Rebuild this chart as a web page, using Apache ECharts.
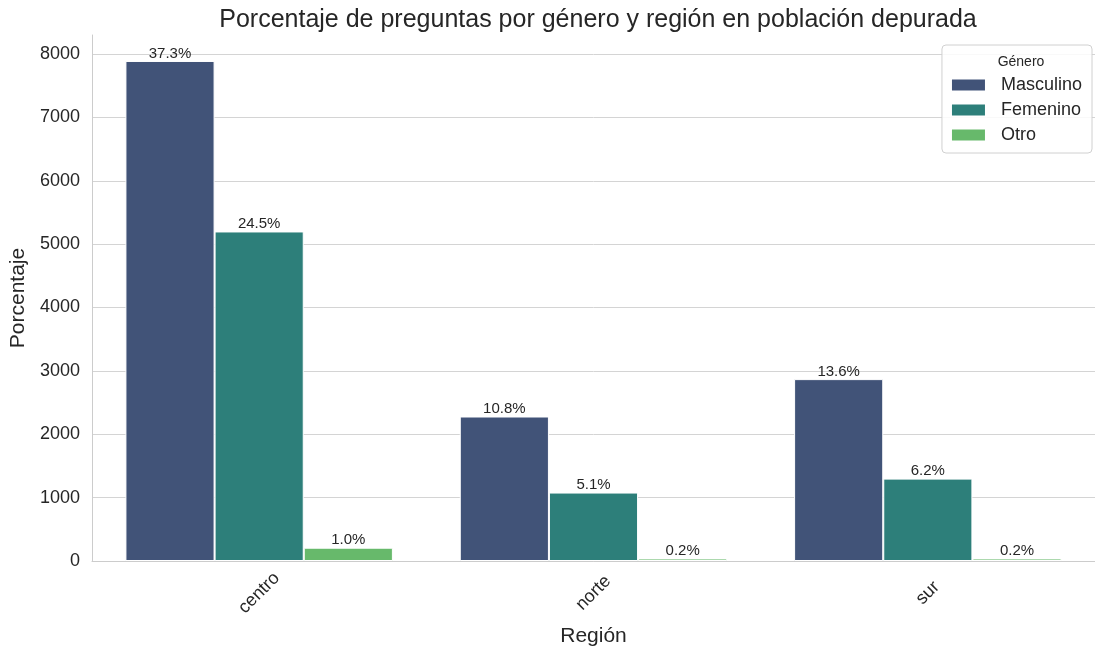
<!DOCTYPE html>
<html>
<head>
<meta charset="utf-8">
<script src="https://cdn.jsdelivr.net/npm/echarts@6/dist/echarts.min.js"></script>
<style>
  html, body { margin: 0; padding: 0; background: #fff; }
  #chart { width: 1095px; height: 652px; }
</style>
</head>
<body>
<div id="chart"></div>
<script>
// datos
var regiones = ['centro', 'norte', 'sur'];
var generos = ['Masculino', 'Femenino', 'Otro'];
var masculino = [7890, 2280, 2870];
var femenino = [5200, 1080, 1300];
var otro = [210, 40, 40];
// etiquetas de porcentaje sobre cada barra
var pctMasculino = ['37.3%', '10.8%', '13.6%'];
var pctFemenino = ['24.5%', '5.1%', '6.2%'];
var pctOtro = ['1.0%', '0.2%', '0.2%'];
var colores = ['#415378', '#2d7f7a', '#67b96b'];

(function () {
  var myChart = echarts.init(document.getElementById('chart'));
  var fuente = "'Liberation Sans', Arial, sans-serif";
  var texto = '#262626';

  function serie(nombre, datos, pct) {
    return {
      name: nombre,
      type: 'bar',
      data: datos,
      barGap: '0%',
      barCategoryGap: '20%',
      itemStyle: { borderColor: '#fff', borderWidth: 1 },
      label: {
        show: true,
        position: 'top',
        distance: 0,
        color: texto,
        fontSize: 15,
        fontFamily: fuente,
        formatter: function (p) { return pct[p.dataIndex]; }
      }
    };
  }

  var option = {
    animation: false,
    color: colores,
    textStyle: { fontFamily: fuente },
    title: [
      {
        text: 'Porcentaje de preguntas por género y región en población depurada',
        left: 593,
        top: 3,
        textAlign: 'center',
        textStyle: { fontSize: 25, fontWeight: 'normal', color: texto, fontFamily: fuente }
      },
      {
        text: 'Género',
        left: 1016,
        top: 50,
        textAlign: 'center',
        textStyle: { fontSize: 14, fontWeight: 'normal', color: texto, fontFamily: fuente }
      }
    ],
    legend: {
      data: generos,
      icon: 'rect',
      orient: 'vertical',
      right: 3,
      top: 45,
      padding: [31, 10, 9, 8],
      itemGap: 7,
      itemWidth: 35,
      itemHeight: 13,
      borderColor: '#d0d0d0',
      borderWidth: 1,
      borderRadius: 4,
      backgroundColor: 'rgba(255,255,255,0.85)',
      textStyle: { fontSize: 18, color: texto, fontFamily: fuente, padding: [0, 0, 0, 10] }
    },
    grid: {
      left: 92,
      right: 0,
      top: 35,
      bottom: 91,
      outerBoundsMode: 'none',
      containLabel: false
    },
    xAxis: {
      type: 'category',
      data: regiones,
      name: 'Región',
      nameLocation: 'middle',
      nameGap: 65,
      nameTextStyle: { fontSize: 21, color: texto, fontFamily: fuente },
      axisLine: { lineStyle: { color: '#cccccc', width: 1 } },
      axisTick: { show: false },
      axisLabel: {
        rotate: 45,
        margin: 32,
        align: 'center',
        verticalAlign: 'middle',
        fontSize: 18,
        color: texto,
        fontFamily: fuente
      }
    },
    yAxis: {
      type: 'value',
      min: 0,
      max: 8300,
      interval: 1000,
      name: 'Porcentaje',
      nameLocation: 'middle',
      nameGap: 55,
      nameTextStyle: { fontSize: 21, color: texto, fontFamily: fuente },
      axisLine: { show: true, lineStyle: { color: '#cccccc', width: 1 } },
      axisTick: { show: false },
      axisLabel: {
        showMaxLabel: false,
        margin: 12,
        fontSize: 18,
        color: texto,
        fontFamily: fuente,
        formatter: function (v) { return String(v); }
      },
      splitLine: { showMaxLine: false, lineStyle: { color: '#d4d4d4', width: 1 } }
    },
    series: [
      serie(generos[0], masculino, pctMasculino),
      serie(generos[1], femenino, pctFemenino),
      serie(generos[2], otro, pctOtro)
    ]
  };

  myChart.setOption(option);
})();
</script>
</body>
</html>
